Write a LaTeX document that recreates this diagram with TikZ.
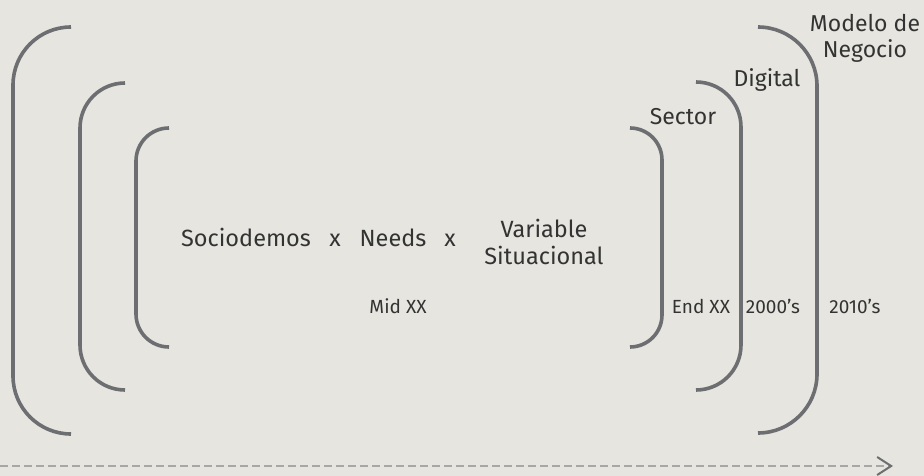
\documentclass[tikz,border=0pt]{standalone}
\usepackage{fontspec}
\setmainfont{Fira Sans}
\usetikzlibrary{arrows.meta}

\definecolor{paper}{HTML}{E6E5DF}
\definecolor{bracketgray}{HTML}{6D6E71}
\definecolor{textgray}{HTML}{333333}
\definecolor{dashgray}{HTML}{A7A7A7}

\tikzset{
  bracket/.style={draw=bracketgray, line width=3.6pt},
  model/.style={text=textgray, anchor=base, align=center,
    font=\fontsize{23.5}{27}\selectfont},
  layer/.style={text=textgray, anchor=base, align=center,
    font=\fontsize{23}{26}\selectfont},
  period/.style={text=textgray, anchor=base,
    font=\fontsize{19}{22}\selectfont},
}

\begin{document}
\begin{tikzpicture}[x=1pt, y=-1pt]

    % Canvas
    \fill[paper] (0,0) rectangle (924,476);
    \useasboundingbox (0,0) rectangle (924,476);

    % Opening brackets: x of the stem / top / bottom / radius
    \foreach \x/\t/\b/\r in {13/27/434/58, 80/83/390/45, 136/128/347/33}
        \draw[bracket, rounded corners=\r pt]
            (\x+\r,\t) -- (\x,\t) -- (\x,\b) -- (\x+\r,\b);

    % Closing brackets, one per layer
    \foreach \x/\t/\b/\r in {662/128/347/32, 741/82/390/45, 817/27/433/59}
        \draw[bracket, rounded corners=\r pt]
            (\x-\r,\t) -- (\x,\t) -- (\x,\b) -- (\x-\r,\b);

    % The basic segmentation formula
    % (base of a two-line node is the baseline of its last line)
    \node[model] (socio) at (246,246) {Sociodemos};
    \node[model] (times1) at (335,246) {x};
    \node[model] (needs) at (393,246) {Needs};
    \node[model] (times2) at (450,246) {x};
    \node[model] (situ) at (544,264) {Variable\\Situacional};

    % Layers added on top
    \node[layer] (sector) at (683,125) {Sector};
    \node[layer] (digital) at (767,87) {Digital};
    \node[layer] (business) at (865,58) {Modelo de\\Negocio};

    % When each one appeared
    \node[period] (midxx) at (398,313) {Mid XX};
    \node[period] (endxx) at (701,313) {End XX};
    \node[period] (y2000) at (773,313) {2000's};
    \node[period] (y2010) at (855,313) {2010's};

    % Time axis
    \coordinate (tstart) at (0,466);
    \coordinate (tend) at (893,466);
    \draw[dashgray, line width=2pt, dash pattern=on 8pt off 4pt,
          -{Straight Barb[length=14pt, width=18pt, line width=2pt, color=bracketgray]}]
        (tstart) -- (tend);

\end{tikzpicture}
\end{document}
